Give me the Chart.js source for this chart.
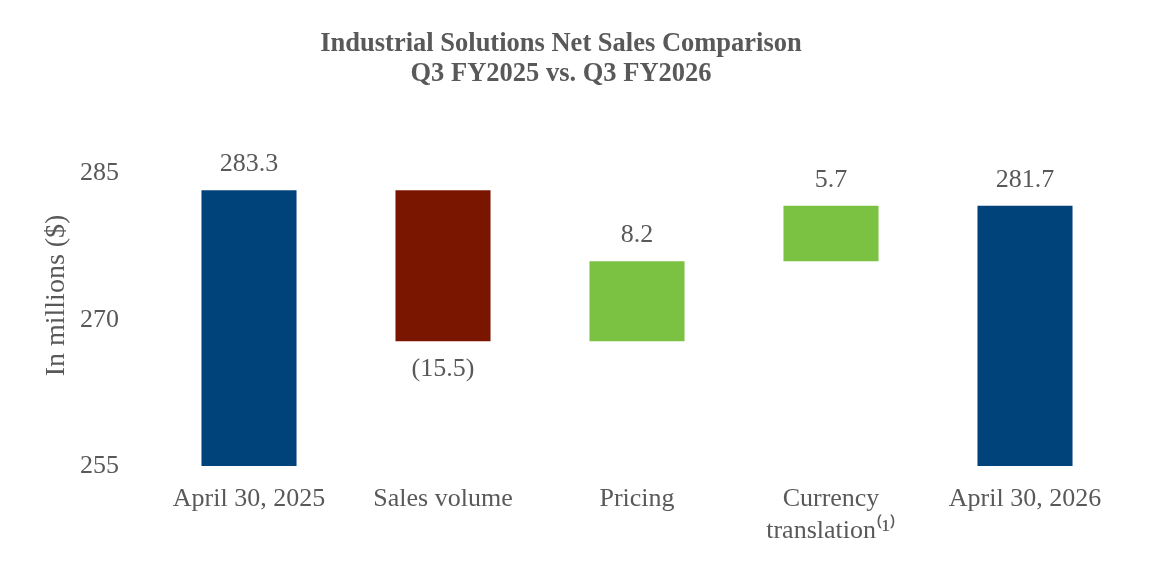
<!DOCTYPE html>
<html>
<head>
<meta charset="utf-8">
<script src="https://cdn.jsdelivr.net/npm/chart.js@4"></script>
<style>
  html, body { margin: 0; padding: 0; background: #fff; }
  #wrap { width: 1152px; height: 576px; }
</style>
</head>
<body>
<div id="wrap"><canvas id="grafico-ponte"></canvas></div>
<script>
// dados
const categorias = [['April 30, 2025'], ['Sales volume'], ['Pricing'], ['Currency', 'translation\u207D\u00B9\u207E'], ['April 30, 2026']];
const inicio = 283.3;
const variacoes = [-15.5, 8.2, 5.7];
const fim = 281.7;
const rotulos = ['283.3', '(15.5)', '8.2', '5.7', '281.7'];
const ticksY = [255, 270, 285];
const cores = ['#00427A', '#7A1600', '#7BC142', '#7BC142', '#00427A'];

// monta as barras flutuantes
const base = ticksY[0];
const barras = [[base, inicio]];
let acumulado = inicio;
variacoes.forEach(v => {
  barras.push([acumulado, acumulado + v]);
  acumulado += v;
});
barras.push([base, fim]);

const cinza = '#595959';
const serifa = '"Liberation Serif", "Times New Roman", serif';

const rotulosPlugin = {
  id: 'rotulos',
  afterDatasetsDraw(chart) {
    const { ctx } = chart;
    const meta = chart.getDatasetMeta(0);
    ctx.save();
    ctx.font = '26px ' + serifa;
    ctx.fillStyle = cinza;
    ctx.textAlign = 'center';
    ctx.textBaseline = 'middle';
    meta.data.forEach((bar, i) => {
      const [a, b] = barras[i];
      const topo = Math.min(bar.y, bar.base);
      const baixo = Math.max(bar.y, bar.base);
      if (b < a) {
        ctx.fillText(rotulos[i], bar.x, baixo + 28);
      } else {
        ctx.fillText(rotulos[i], bar.x, topo - 26);
      }
    });
    ctx.restore();
  }
};

const ctx = document.getElementById('grafico-ponte');

new Chart(ctx, {
  type: 'bar',
  data: {
    labels: categorias,
    datasets: [{
      data: barras,
      backgroundColor: cores,
      borderWidth: 0,
      barPercentage: 0.49,
      categoryPercentage: 1
    }]
  },
  options: {
    responsive: true,
    maintainAspectRatio: false,
    animation: false,
    layout: { padding: { left: 0, right: 30, top: 0, bottom: 0 } },
    plugins: {
      legend: { display: false },
      tooltip: { enabled: false },
      title: {
        display: true,
        text: ['Industrial Solutions Net Sales Comparison', 'Q3 FY2025 vs. Q3 FY2026'],
        color: cinza,
        font: { family: serifa, size: 26.5, weight: 'bold', lineHeight: 1.13 },
        padding: { top: 29, bottom: 36 }
      }
    },
    scales: {
      x: {
        grid: { display: false },
        border: { display: false },
        afterFit(scale) { scale.height = 110; },
        ticks: {
          color: cinza,
          padding: 9,
          maxRotation: 0,
          autoSkip: false,
          font: { family: serifa, size: 26, lineHeight: 1.23 }
        }
      },
      y: {
        min: 255,
        max: 290,
        grid: { display: false },
        border: { display: false },
        afterFit(scale) { scale.width = 152; },
        afterBuildTicks(scale) {
          scale.ticks = ticksY.map(v => ({ value: v }));
        },
        title: {
          display: true,
          text: 'In millions ($)',
          color: cinza,
          font: { family: serifa, size: 28 },
          padding: { top: 40, bottom: 0 }
        },
        ticks: {
          color: cinza,
          padding: 25,
          font: { family: serifa, size: 26 }
        }
      }
    }
  },
  plugins: [rotulosPlugin]
});
</script>
</body>
</html>
